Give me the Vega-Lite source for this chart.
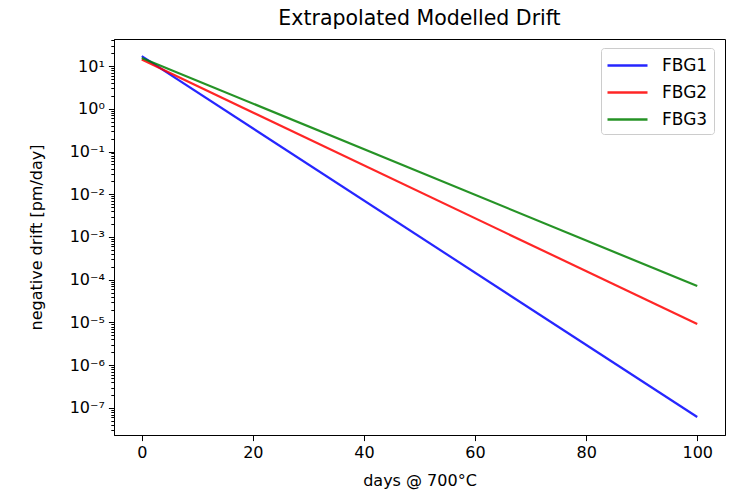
{
  "$schema": "https://vega.github.io/schema/vega-lite/v6.json",
  "width": 611,
  "height": 396,
  "autosize": {"type": "none"},
  "padding": {"left": 114, "top": 39, "right": 8, "bottom": 57},
  "background": "white",
  "config": {
    "font": "DejaVu Sans",
    "view": {"stroke": "black", "strokeWidth": 1},
    "axis": {"grid": false, "domainColor": "black", "tickColor": "black", "labelColor": "black", "titleColor": "black", "labelFont": "DejaVu Sans", "titleFont": "DejaVu Sans", "labelFontSize": 16, "titleFontSize": 16, "titleFontWeight": "normal"}
  },
  "title": {"text": "Extrapolated Modelled Drift", "fontSize": 20.5, "font": "DejaVu Sans", "fontWeight": "normal", "color": "black", "anchor": "middle", "baseline": "alphabetic", "offset": 12, "dy": 25},
  "data": {
    "values": [
      {"series": "FBG1", "day": 0, "drift": 17},
      {"series": "FBG1", "day": 100, "drift": 6.15e-8},
      {"series": "FBG2", "day": 0, "drift": 14.2},
      {"series": "FBG2", "day": 100, "drift": 9.2e-6},
      {"series": "FBG3", "day": 0, "drift": 15.5},
      {"series": "FBG3", "day": 100, "drift": 7.1e-5}
    ]
  },
  "mark": {"type": "line", "strokeWidth": 2.2, "opacity": 0.85},
  "encoding": {
    "x": {
      "field": "day", "type": "quantitative",
      "scale": {"domain": [-5, 105], "nice": false, "zero": false},
      "axis": {"title": "days @ 700°C", "values": [0, 20, 40, 60, 80, 100], "tickSize": 5.6, "labelPadding": 4, "titlePadding": 12, "labelFlush": false}
    },
    "y": {
      "field": "drift", "type": "quantitative",
      "scale": {"type": "log", "domain": [2.33e-8, 42.9], "nice": false},
      "axis": {
        "title": "negative drift [pm/day]",
        "titlePadding": 25,
        "labelOverlap": false,
        "labelPadding": 4,
        "values": [3e-8, 4e-8, 5e-8, 6e-8, 7e-8, 8e-8, 9e-8,
          1e-7, 2e-7, 3e-7, 4e-7, 5e-7, 6e-7, 7e-7, 8e-7, 9e-7,
          1e-6, 2e-6, 3e-6, 4e-6, 5e-6, 6e-6, 7e-6, 8e-6, 9e-6,
          1e-5, 2e-5, 3e-5, 4e-5, 5e-5, 6e-5, 7e-5, 8e-5, 9e-5,
          1e-4, 2e-4, 3e-4, 4e-4, 5e-4, 6e-4, 7e-4, 8e-4, 9e-4,
          1e-3, 2e-3, 3e-3, 4e-3, 5e-3, 6e-3, 7e-3, 8e-3, 9e-3,
          1e-2, 2e-2, 3e-2, 4e-2, 5e-2, 6e-2, 7e-2, 8e-2, 9e-2,
          1e-1, 2e-1, 3e-1, 4e-1, 5e-1, 6e-1, 7e-1, 8e-1, 9e-1,
          1, 2, 3, 4, 5, 6, 7, 8, 9,
          10, 20, 30, 40],
        "tickSize": {"condition": {"test": "abs(log(datum.value)/LN10 - round(log(datum.value)/LN10)) < 0.001", "value": 5.6}, "value": 3.2},
        "labelExpr": "abs(log(datum.value)/LN10 - round(log(datum.value)/LN10)) < 0.001 ? '10' + (round(log(datum.value)/LN10) < 0 ? '⁻' : '') + ['⁰','¹','²','³','⁴','⁵','⁶','⁷','⁸','⁹'][abs(round(log(datum.value)/LN10))] : ''"
      }
    },
    "color": {
      "field": "series", "type": "nominal",
      "scale": {"domain": ["FBG1", "FBG2", "FBG3"], "range": ["#0000ff", "#ff0000", "#008000"]},
      "legend": {
        "title": null, "orient": "none", "legendX": 487, "legendY": 9,
        "symbolType": "M-2,0L2,0", "symbolSize": 400, "symbolStrokeWidth": 2.4, "symbolOffset": 9,
        "labelFontSize": 17, "labelFont": "DejaVu Sans", "labelColor": "black", "labelOffset": 23,
        "rowPadding": 7, "padding": 6,
        "strokeColor": "#cccccc", "fillColor": "rgba(255,255,255,0.8)", "cornerRadius": 3
      }
    }
  }
}
